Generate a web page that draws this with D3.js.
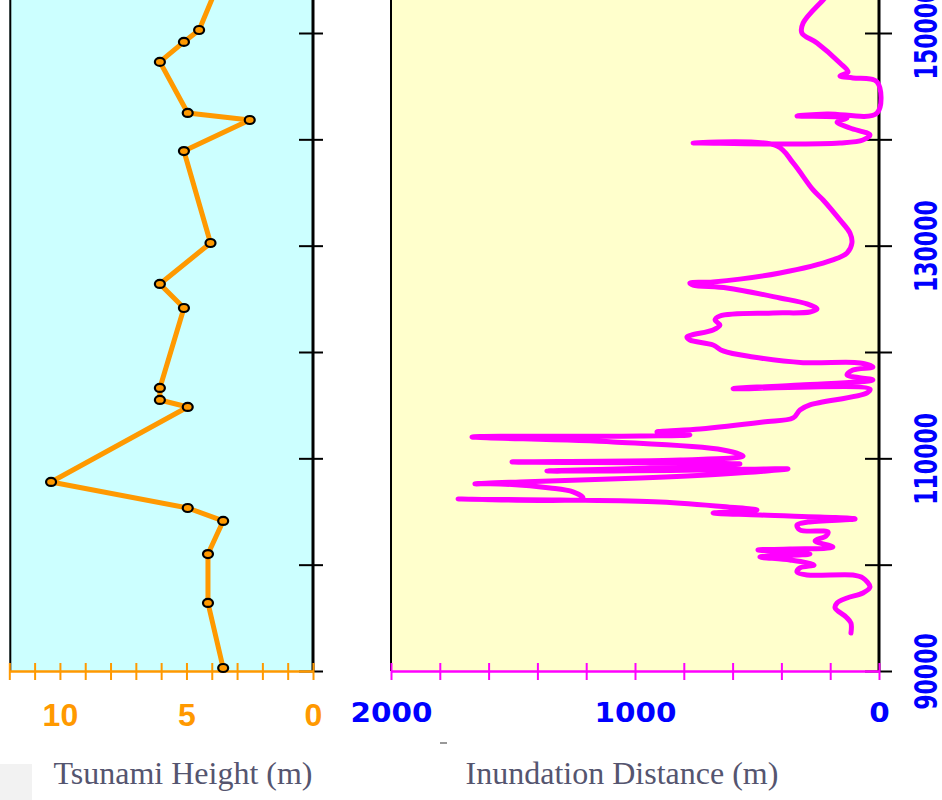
<!DOCTYPE html>
<html>
<head>
<meta charset="utf-8">
<script src="https://cdn.jsdelivr.net/npm/d3@7"></script>
<style>
  body { margin: 0; background: #fff; }
</style>
</head>
<body>
<div id="chart"></div>
<script>
// tsunami height survey points (position along coast, height in m)
var heightPos = [90280, 96400, 101000, 104110, 105330, 107780, 114830, 115490, 116620,
                 124140, 126400, 130250, 138900, 141820, 142480, 147280, 149160, 150280, 154000];
var heightVal = [3.55, 4.15, 4.15, 3.55, 4.95, 10.35, 4.95, 6.05, 6.05,
                 5.1, 6.05, 4.05, 5.1, 2.5, 4.95, 6.05, 5.1, 4.5, 3.85];

// inundation distance trace (position along coast, distance in m)
var inundPos = [93570, 94510, 95080, 95930, 96400, 96870, 97340, 97900, 98750, 99030,
                99030, 99310, 99690, 99970, 100440, 100720, 101000, 101380, 101470, 101660,
                102230, 102700, 103070, 103260, 103730, 104010, 104300, 104670, 104860, 105140,
                105420, 105890, 106080, 106180, 106270, 106840, 107210, 107590, 107600, 107780,
                108150, 108530, 109000, 108900, 108810, 109090, 109470, 109660, 109840, 110220,
                110790, 111540, 112010, 112100, 112200, 112480, 112760, 113420, 113800, 114550,
                115020, 116150, 116520, 116550, 116900, 117370, 117840, 118310, 118590, 118970,
                119000, 119530, 120100, 120660, 121130, 121410, 122070, 122540, 123010, 123390,
                123670, 123760, 124050, 124520, 125080, 126020, 126300, 126490, 126590, 127430,
                128660, 129310, 130250, 131190, 132420, 134300, 135240, 137780, 139380, 139660,
                139560, 139660, 139940, 140410, 141070, 141630, 142010, 142200, 142390, 142480,
                145400, 145770, 145960, 146340, 147180, 149060, 150000, 150940, 153110, 154520];
var inundDist = [115, 115, 135, 180, 172, 131, 66, 37, 66, 107,
                 295, 336, 324, 266, 365, 488, 283, 496, 365, 189,
                 262, 217, 209, 324, 336, 291, 98, 488, 680, 500,
                 619, 897, 1307, 1725, 1213, 1254, 1348, 1553, 1656, 1471,
                 979, 639, 373, 734, 1361, 938, 570, 1504, 815, 557,
                 639, 1090, 1668, 979, 775, 910, 734, 475, 352, 324,
                 283, 49, 37, 598, 324, 25, 131, 107, 25, 78,
                 311, 516, 639, 680, 775, 787, 680, 652, 672, 652,
                 434, 283, 254, 295, 406, 623, 762, 775, 680, 406,
                 189, 131, 111, 119, 160, 229, 270, 352, 418, 762,
                 406, 160, 66, 37, 119, 172, 131, 336, 213, 8,
                 8, 107, 160, 127, 160, 254, 316, 311, 229, 168];

// tick values and labels
var heightMinor = d3.range(0, 13, 1);
var heightLabels = [10, 5, 0];
var distMinor = d3.range(0, 2001, 200);
var distLabels = [2000, 1000, 0];
var posMinor = d3.range(90000, 150001, 10000);
var posLabels = [90000, 110000, 130000, 150000];

var width = 942, height = 800;

var svg = d3.select("#chart")
  .append("svg")
  .attr("width", width)
  .attr("height", height);

// shared vertical scale (coast position), top runs off the picture
var y = d3.scaleLinear().domain([90000, 150000]).range([671, 33]);
var xH = d3.scaleLinear().domain([12, 0]).range([9.3, 313]);
var xD = d3.scaleLinear().domain([2000, 0]).range([391, 879]);

var base = y(90000);

// panel backgrounds
svg.append("rect")
  .attr("x", xH(12)).attr("y", 0)
  .attr("width", xH(0) - xH(12)).attr("height", base)
  .attr("fill", "#ccffff");
svg.append("rect")
  .attr("x", xD(2000)).attr("y", 0)
  .attr("width", xD(0) - xD(2000)).attr("height", base)
  .attr("fill", "#ffffcc");

// black side frames
[[xH(12) + 1, 2], [xH(0), 3], [xD(2000), 2], [xD(0), 3]].forEach(function(f) {
  svg.append("line")
    .attr("x1", f[0]).attr("x2", f[0])
    .attr("y1", 0).attr("y2", base)
    .attr("stroke", "#000").attr("stroke-width", f[1]);
});

// y ticks crossing the right frame of each panel
function posTicks(x0, inner, outer) {
  svg.append("g")
    .attr("transform", "translate(" + x0 + ",0)")
    .call(d3.axisLeft(y).tickValues(posMinor).tickSize(inner).tickSizeOuter(0).tickFormat(""))
    .call(function(g) { g.select(".domain").remove(); })
    .selectAll("line").attr("stroke", "#000").attr("stroke-width", 2);
  svg.append("g")
    .attr("transform", "translate(" + x0 + ",0)")
    .call(d3.axisRight(y).tickValues(posMinor).tickSize(outer).tickSizeOuter(0).tickFormat(""))
    .call(function(g) { g.select(".domain").remove(); })
    .selectAll("line").attr("stroke", "#000").attr("stroke-width", 2);
}
posTicks(xH(0), 14, 10);
posTicks(xD(0), 14, 13);

// bottom axes, ticks drawn above and below the line
function bottomAxis(scale, minor, color, up, down) {
  svg.append("g")
    .attr("transform", "translate(0," + base + ")")
    .call(d3.axisBottom(scale).tickValues(minor).tickSize(down).tickSizeOuter(0).tickFormat(""))
    .call(function(g) {
      g.select(".domain").attr("stroke", color).attr("stroke-width", 2.5);
      g.selectAll("line").attr("stroke", color).attr("stroke-width", 2);
    });
  svg.append("g")
    .attr("transform", "translate(0," + base + ")")
    .call(d3.axisTop(scale).tickValues(minor).tickSize(up).tickSizeOuter(0).tickFormat(""))
    .call(function(g) {
      g.select(".domain").remove();
      g.selectAll("line").attr("stroke", color).attr("stroke-width", 2);
    });
}
bottomAxis(xH, heightMinor, "#ff9900", 8, 9);
bottomAxis(xD, distMinor, "#ff00ff", 8, 9);

// bottom tick labels
svg.append("g")
  .attr("transform", "translate(0," + base + ")")
  .call(d3.axisBottom(xH).tickValues(heightLabels).tickSize(0).tickFormat(d3.format("d")))
  .call(function(g) { g.select(".domain").remove(); })
  .attr("font-family", "'Liberation Sans', Arial, sans-serif")
  .attr("font-size", 32)
  .attr("font-weight", "bold")
  .selectAll("text")
  .attr("fill", "#ff9900")
  .attr("y", 55).attr("dy", 0);

svg.append("g")
  .attr("transform", "translate(0," + base + ")")
  .call(d3.axisBottom(xD).tickValues(distLabels).tickSize(0).tickFormat(d3.format("d")))
  .call(function(g) { g.select(".domain").remove(); })
  .attr("font-family", "'DejaVu Sans', sans-serif")
  .attr("font-size", 27)
  .attr("font-weight", "bold")
  .selectAll("text")
  .attr("fill", "#0000ff")
  .attr("y", 51).attr("dy", 0)
  .attr("transform", "scale(1.09,1)");

// rotated position labels on the far right
svg.append("g")
  .attr("transform", "translate(" + xD(0) + ",0)")
  .call(d3.axisRight(y).tickValues(posLabels).tickSize(0).tickFormat(d3.format("d")))
  .call(function(g) { g.select(".domain").remove(); })
  .attr("font-family", "'DejaVu Sans', sans-serif")
  .attr("font-size", 22)
  .attr("font-weight", "bold")
  .attr("text-anchor", "middle")
  .selectAll("text")
  .attr("fill", "#0000ff")
  .attr("x", 0).attr("dy", 0)
  .attr("transform", "translate(58,0) rotate(-90) scale(1,1.42)");

// height line with ring markers
var hData = heightPos.map(function(p, i) { return {pos: p, val: heightVal[i]}; });
var hLine = d3.line()
  .x(function(d) { return xH(d.val); })
  .y(function(d) { return y(d.pos); });
svg.append("path")
  .datum(hData)
  .attr("d", hLine)
  .attr("fill", "none")
  .attr("stroke", "#ff9900")
  .attr("stroke-width", 5)
  .attr("stroke-linejoin", "round");
svg.append("g")
  .selectAll("ellipse")
  .data(hData)
  .enter().append("ellipse")
  .attr("cx", function(d) { return xH(d.val); })
  .attr("cy", function(d) { return y(d.pos); })
  .attr("rx", 5).attr("ry", 4)
  .attr("fill", "#ff9900")
  .attr("stroke", "#000")
  .attr("stroke-width", 2.2);

// inundation distance trace
var dData = inundPos.map(function(p, i) { return {pos: p, val: inundDist[i]}; });
var dLine = d3.line()
  .curve(d3.curveCatmullRom.alpha(0.5))
  .x(function(d) { return xD(d.val); })
  .y(function(d) { return y(d.pos); });
svg.append("path")
  .datum(dData)
  .attr("d", dLine)
  .attr("fill", "none")
  .attr("stroke", "#ff00ff")
  .attr("stroke-width", 5)
  .attr("stroke-linejoin", "round")
  .attr("stroke-linecap", "round");

// axis titles
svg.append("text")
  .attr("x", 183).attr("y", 784)
  .attr("text-anchor", "middle")
  .attr("font-family", "'Liberation Serif', 'Times New Roman', serif")
  .attr("font-size", 32)
  .attr("fill", "#55556f")
  .text("Tsunami Height (m)");
svg.append("text")
  .attr("x", 622).attr("y", 784)
  .attr("text-anchor", "middle")
  .attr("font-family", "'Liberation Serif', 'Times New Roman', serif")
  .attr("font-size", 32)
  .attr("fill", "#55556f")
  .text("Inundation Distance (m)");

// small leftover marks from the scan
svg.append("line")
  .attr("x1", 440).attr("x2", 447).attr("y1", 743).attr("y2", 743)
  .attr("stroke", "#777").attr("stroke-width", 1.5);
svg.append("rect")
  .attr("x", 0).attr("y", 764).attr("width", 32).attr("height", 36)
  .attr("fill", "#f2f2f2");
</script>
</body>
</html>
